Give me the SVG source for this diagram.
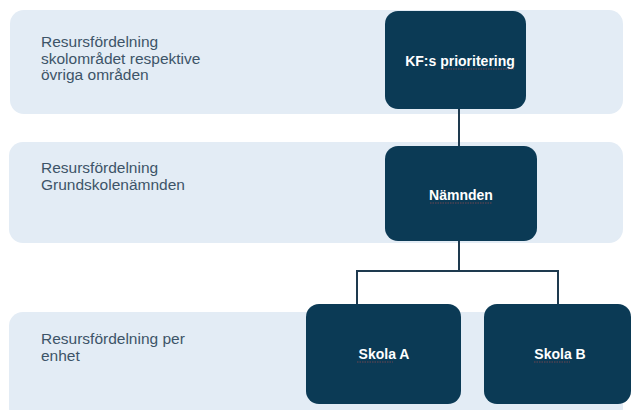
<svg xmlns="http://www.w3.org/2000/svg" width="631" height="410" viewBox="0 0 631 410">
<style>
.band{fill:#e3ecf5}
.box{fill:#0b3a55}
.lbl{font-family:"Liberation Sans",Arial,sans-serif;font-size:15.5px;fill:#3d5468}
.nt{font-family:"Liberation Sans",Arial,sans-serif;font-size:14px;fill:#ffffff;text-anchor:middle;font-weight:bold}
.conn{stroke:#1e3a4f;stroke-width:2;fill:none}
.sq{stroke:#c0504d;stroke-width:0.8;fill:none;stroke-dasharray:1.5 1;opacity:0.7}
</style>
<rect width="631" height="410" fill="#ffffff"/>
<g id="band1"><rect class="band" x="10" y="10" width="613" height="104" rx="14"/>
<text class="lbl" x="41" y="47">Resursfördelning</text>
<text class="lbl" x="41" y="63.5">skolområdet respektive</text>
<text class="lbl" x="41" y="80">övriga områden</text></g>
<g id="band2"><rect class="band" x="9" y="142" width="614" height="101" rx="14"/>
<text class="lbl" x="41" y="173">Resursfördelning</text>
<text class="lbl" x="41" y="190">Grundskolenämnden</text></g>
<g id="band3"><rect class="band" x="9" y="312" width="614" height="110" rx="14"/>
<text class="lbl" x="41" y="344">Resursfördelning per</text>
<text class="lbl" x="41" y="360.5">enhet</text></g>
<g id="connectors">
<path class="conn" d="M459 108V148"/>
<path class="conn" d="M459 240V271M357 271H558M357 270V306M558 270V306"/>
</g>
<g id="kf"><rect class="box" x="385" y="11" width="141" height="98" rx="13"/>
<text class="nt" x="460" y="66">KF:s prioritering</text>
<path class="sq" d="M443 69H514"/></g>
<g id="namnden"><rect class="box" x="385" y="146" width="152" height="95" rx="13"/>
<text class="nt" x="461" y="200">Nämnden</text>
<path class="sq" d="M430 203H492"/></g>
<g id="skolaA"><rect class="box" x="306" y="304" width="155" height="100" rx="13"/>
<text class="nt" x="384" y="359">Skola A</text>
<path class="sq" d="M357 362H393"/></g>
<g id="skolaB"><rect class="box" x="484" y="304" width="147" height="100" rx="13"/>
<text class="nt" x="560" y="359">Skola B</text>
<path class="sq" d="M534 362H570"/></g>
</svg>
